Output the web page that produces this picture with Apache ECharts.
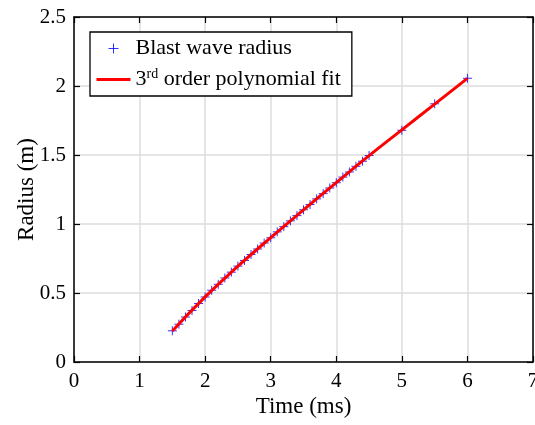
<!DOCTYPE html>
<html>
<head>
<meta charset="utf-8">
<script src="https://cdn.jsdelivr.net/npm/echarts@6/dist/echarts.min.js"></script>
<style>html,body{margin:0;padding:0;background:#fff;}#c{width:535px;height:425px;}</style>
</head>
<body>
<div id="c"></div>
<script>
// Measured blast wave radius
var timeMs = [1.5,1.6,1.7,1.8,1.9,2.0,2.1,2.2,2.3,2.4,2.5,2.6,2.7,2.8,2.9,3.0,3.1,3.2,3.3,3.4,3.5,3.6,3.7,3.8,3.9,4.0,4.1,4.2,4.3,4.4,4.5,5.0,5.5,6.0];
var radiusM = [0.226,0.274,0.326,0.373,0.424,0.471,0.520,0.563,0.609,0.651,0.695,0.736,0.779,0.819,0.862,0.900,0.943,0.981,1.023,1.061,1.103,1.141,1.182,1.220,1.261,1.299,1.340,1.377,1.418,1.455,1.496,1.679,1.871,2.056];
// 3rd order polynomial fit (evaluated points)
var fitTime = [1.5,2.0,2.5,3.0,3.5,4.0,4.5,5.0,5.5,6.0];
var fitRadius = [0.225,0.472,0.694,0.901,1.102,1.300,1.495,1.682,1.869,2.055];
var xTicks = [0,1,2,3,4,5,6,7];
var yTicks = [0,0.5,1,1.5,2,2.5];

var serif = 'Liberation Serif, Times New Roman, serif';
var scatterName = 'Blast wave radius';
var fitName = '3rd order polynomial fit';

var chart = echarts.init(document.getElementById('c'));
var pts = timeMs.map(function(t,i){return [t, radiusM[i]];});
var fitPts = fitTime.map(function(t,i){return [t, fitRadius[i]];});

function axisBase(extra){
  return Object.assign({
    axisLine:{show:true, onZero:false, lineStyle:{color:'#000', width:1.5}},
    axisTick:{show:true, inside:true, length:6, lineStyle:{color:'#000', width:1.2}},
    splitLine:{show:false},
    axisLabel:{show:false}
  }, extra);
}

chart.setOption({
  animation:false,
  backgroundColor:'#fff',
  grid:{left:74, right:2, top:17, bottom:63, containLabel:false, outerBoundsMode:'none'},
  xAxis:[
    axisBase({type:'value', min:xTicks[0], max:xTicks[xTicks.length-1], interval:1, position:'bottom',
      name:'Time (ms)', nameLocation:'middle', nameGap:33, nameMoveOverlap:false,
      nameTextStyle:{fontFamily:serif, fontSize:23, color:'#000'},
      splitLine:{show:true, lineStyle:{color:'#dcdcdc', width:1.5}},
      axisLabel:{show:true, fontFamily:serif, fontSize:21, color:'#000', margin:9, hideOverlap:false}}),
    axisBase({type:'value', min:xTicks[0], max:xTicks[xTicks.length-1], interval:1, position:'top'})
  ],
  yAxis:[
    axisBase({type:'value', min:yTicks[0], max:yTicks[yTicks.length-1], interval:0.5, position:'left',
      name:'Radius (m)', nameLocation:'middle', nameGap:36, nameMoveOverlap:false,
      nameTextStyle:{fontFamily:serif, fontSize:23, color:'#000'},
      splitLine:{show:true, lineStyle:{color:'#dcdcdc', width:1.5}},
      axisLabel:{show:true, fontFamily:serif, fontSize:21, color:'#000', margin:8}}),
    axisBase({type:'value', min:yTicks[0], max:yTicks[yTicks.length-1], interval:0.5, position:'right'})
  ],
  legend:{
    orient:'vertical', left:90, top:32,
    padding:[4,11,4,6], itemGap:6,
    itemWidth:34, itemHeight:14,
    backgroundColor:'#fff', borderColor:'#000', borderWidth:1.3, borderRadius:0,
    selectedMode:false,
    textStyle:{fontFamily:serif, fontSize:22, color:'#000', lineHeight:25,
      rich:{
        n:{fontFamily:serif, fontSize:22, color:'#000', lineHeight:25},
        sup:{fontFamily:serif, fontSize:14, color:'#000', verticalAlign:'top', lineHeight:14, padding:[0,0,10,0]}
      }},
    formatter:function(name){
      if(name===fitName){ return '{n|3}{sup|rd}{n| order polynomial fit}'; }
      return name;
    },
    data:[
      {name:scatterName, icon:'path://M0,0M34,14M12,7L22,7M17,2L17,12',
       itemStyle:{color:'transparent', borderColor:'#0000ff', borderWidth:1}},
      {name:fitName, icon:'path://M0,0M34,14M0,5.5L34,5.5L34,8.5L0,8.5Z',
       itemStyle:{color:'#ff0000', borderWidth:0}}
    ]
  },
  series:[
    {type:'scatter', name:scatterName, data:pts, xAxisIndex:0, yAxisIndex:0,
     symbol:'path://M0,4L8,4M4,0L4,8', symbolSize:9,
     itemStyle:{color:'transparent', borderColor:'#0000ff', borderWidth:1},
     emphasis:{disabled:true}, z:2},
    {type:'line', name:fitName, data:fitPts, xAxisIndex:0, yAxisIndex:0,
     symbol:'none', smooth:true,
     lineStyle:{color:'#ff0000', width:3},
     itemStyle:{color:'#ff0000'},
     emphasis:{disabled:true}, z:3}
  ]
});
</script>
</body>
</html>
